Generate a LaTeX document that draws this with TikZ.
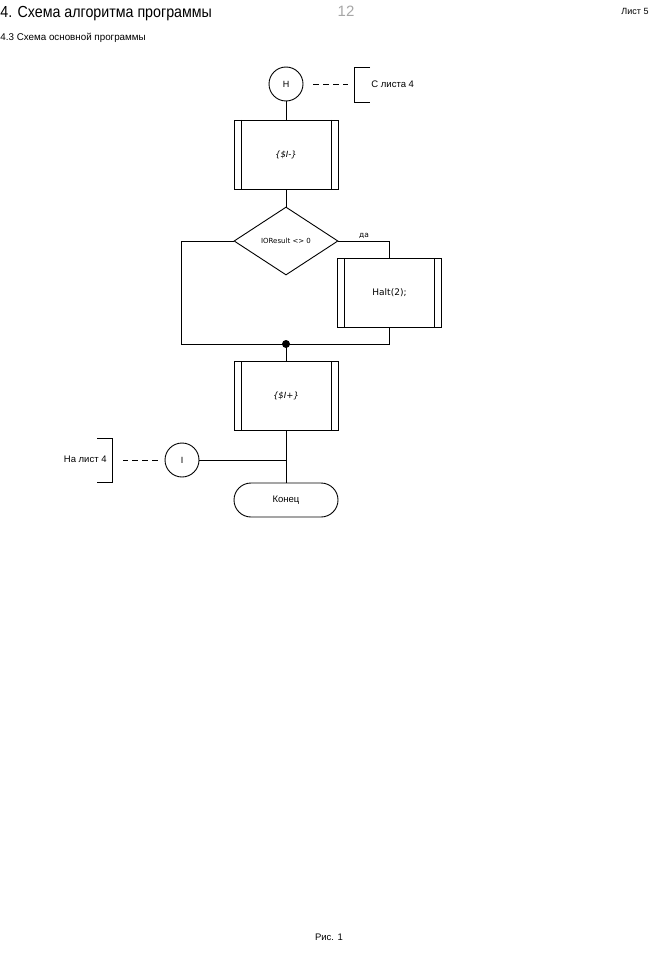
\documentclass[tikz,border=0pt]{standalone}
\usepackage{fontspec}
\setmainfont{Liberation Sans}
\newfontfamily\vfont{DejaVu Sans}
\usepackage{tikz}
\usetikzlibrary{positioning,shapes,calc}
\tikzset{
  conn/.style   = {circle, draw, minimum size=34pt, inner sep=0pt,
                   font=\fontsize{9}{10}\selectfont},
  subproc/.style = {draw, rectangle, minimum width=104pt, minimum height=69pt,
                   inner sep=0pt, font=\vfont\fontsize{9}{10}\selectfont,
                   path picture={
                     \draw ([xshift=7pt]path picture bounding box.north west)
                        -- ([xshift=7pt]path picture bounding box.south west)
                           ([xshift=-7pt]path picture bounding box.north east)
                        -- ([xshift=-7pt]path picture bounding box.south east);}},
  decision/.style = {diamond, draw, minimum width=104pt, minimum height=68pt,
                   inner sep=0pt, font=\vfont\fontsize{7}{8}\selectfont},
  term/.style   = {rectangle, draw, rounded corners=17pt, minimum width=104pt,
                   minimum height=34pt, font=\fontsize{9.5}{10}\selectfont},
  note/.style   = {inner sep=0pt, font=\fontsize{9.5}{10}\selectfont},
  dline/.style  = {dash pattern=on 6pt off 4pt},
  lbl/.style    = {font=\vfont\fontsize{7.5}{8}\selectfont, inner sep=2pt}
}
\begin{document}
\begin{tikzpicture}[x=1pt,y=-1pt,line width=0.9pt]
  \useasboundingbox (0,0) rectangle (649,971);
  % page header
  \node[anchor=west, inner sep=0pt, font=\fontsize{16}{18}\selectfont] (title) at (0,14) {\scalebox{0.89}[1]{4. Схема алгоритма программы}};
  \node[inner sep=0pt, text=gray!70, font=\fontsize{15}{18}\selectfont] (pgnum) at (346,11) {12};
  \node[note, anchor=east, font=\fontsize{9}{10}\selectfont] (sheet) at (649,11) {Лист 5};
  \node[note, anchor=west, font=\fontsize{9.8}{11}\selectfont] (sub) at (0,38) {4.3 Схема основной программы};
  % flowchart
  \node[conn] (start) at (286,84) {Н};
  \node[subproc, font=\vfont\itshape\fontsize{8.5}{10}\selectfont] (ioff) at (286,154.5) {\{\$I-\}};
  \node[decision] (check) at (286,241) {IOResult <> 0};
  \node[subproc] (halt) at (389.5,292.5) {Halt(2);};
  \coordinate (join) at (286,344);
  \node[subproc, font=\vfont\itshape\fontsize{8.5}{10}\selectfont] (ion) at (286,395.5) {\{\$I+\}};
  \node[conn] (exit) at (182,460) {I};
  \node[term] (end) at (286,500) {Конец};
  \draw (start) -- (ioff);
  \draw (ioff) -- (check);
  \draw (check.east) -| node[pos=0.25, above, lbl] {да} (halt.north);
  \draw (check.west) -- ++(-52,0) |- (join);
  \draw (halt.south) |- (join);
  \fill (join) circle (4pt);
  \draw (join) -- (ion);
  \draw (ion) -- (end);
  \draw (exit) -- (exit -| ion);
  % off-page notes
  \node[note, anchor=west] (fromnote) at (371,84) {С листа 4};
  \coordinate (fromb) at (354,84);
  \draw (370,67) -- (354,67) -- (354,102) -- (370,102);
  \draw[dline, shorten <=10pt, shorten >=6pt] (start) -- (fromb);
  \node[note, anchor=east] (tonote) at (107,459) {На лист 4};
  \coordinate (tob) at (112,460);
  \draw (97,438) -- (112,438) -- (112,482) -- (97,482);
  \draw[dline, shorten <=7pt, shorten >=11pt] (exit) -- (tob);
  \node[note] (fig) at (329,937) {Рис. 1};
\end{tikzpicture}
\end{document}
